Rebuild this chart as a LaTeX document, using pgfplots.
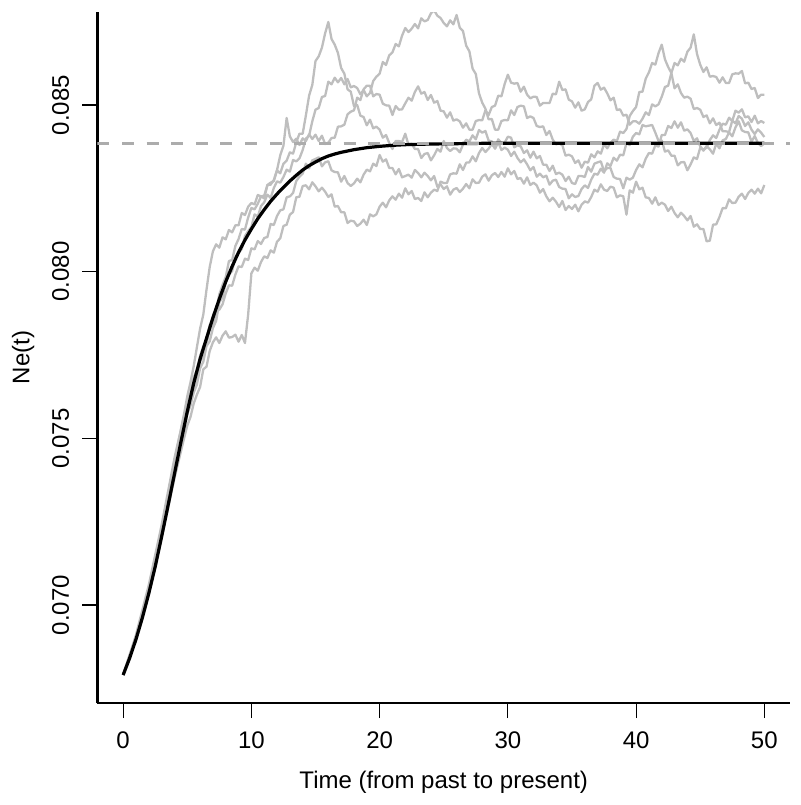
\documentclass[border=0pt]{standalone}
\usepackage{pgfplots}
\usepackage{pgfplotstable}
\pgfplotsset{compat=1.18}
\usepackage{fontspec}
\setmainfont{Liberation Sans}
\definecolor{pathgray}{RGB}{190,190,190}
\definecolor{dashgray}{RGB}{172,172,172}

\pgfplotstableread{
t a b c d e
0 0.06790 0.06790 0.06790 0.06790 0.06790
0.25 0.06819 0.06818 0.06820 0.06816 0.06818
0.5 0.06848 0.06845 0.06850 0.06843 0.06846
0.75 0.06876 0.06873 0.06880 0.06869 0.06874
1 0.06905 0.06900 0.06910 0.06895 0.06902
1.25 0.06941 0.06935 0.06948 0.06929 0.06938
1.5 0.06978 0.06970 0.06985 0.06963 0.06974
1.75 0.07014 0.07005 0.07023 0.06996 0.07009
2 0.07050 0.07040 0.07060 0.07030 0.07045
2.25 0.07095 0.07084 0.07105 0.07073 0.07090
2.5 0.07140 0.07128 0.07150 0.07115 0.07135
2.75 0.07185 0.07171 0.07195 0.07158 0.07180
3 0.07230 0.07215 0.07240 0.07200 0.07225
3.25 0.07280 0.07261 0.07290 0.07245 0.07271
3.5 0.07330 0.07308 0.07340 0.07290 0.07318
3.75 0.07380 0.07354 0.07390 0.07335 0.07364
4 0.07430 0.07400 0.07440 0.07380 0.07410
4.25 0.07478 0.07443 0.07483 0.07420 0.07455
4.5 0.07525 0.07485 0.07525 0.07460 0.07500
4.75 0.07573 0.07528 0.07568 0.07500 0.07545
5 0.07626 0.07573 0.07610 0.07538 0.07589
5.25 0.07668 0.07598 0.07637 0.07564 0.07627
5.5 0.07716 0.07637 0.07682 0.07604 0.07648
5.75 0.07773 0.07661 0.07705 0.07631 0.07690
6 0.07829 0.07710 0.07747 0.07654 0.07731
6.25 0.07871 0.07730 0.07776 0.07707 0.07747
6.5 0.07946 0.07777 0.07792 0.07715 0.07784
6.75 0.08014 0.07791 0.07840 0.07762 0.07826
7 0.08061 0.07831 0.07856 0.07788 0.07840
7.25 0.08082 0.07852 0.07881 0.07803 0.07882
7.5 0.08072 0.07908 0.07932 0.07786 0.07886
7.75 0.08103 0.07923 0.07960 0.07808 0.07902
8 0.08097 0.07967 0.07984 0.07821 0.07935
8.25 0.08125 0.07991 0.08032 0.07802 0.07959
8.5 0.08118 0.08002 0.08035 0.07804 0.07958
8.75 0.08139 0.08045 0.08077 0.07811 0.07991
9 0.08139 0.08056 0.08098 0.07790 0.08016
9.25 0.08176 0.08068 0.08128 0.07810 0.08014
9.5 0.08170 0.08107 0.08126 0.07786 0.08039
9.75 0.08195 0.08122 0.08163 0.07872 0.08035
10 0.08206 0.08134 0.08191 0.07995 0.08070
10.25 0.08202 0.08172 0.08187 0.08012 0.08067
10.5 0.08230 0.08165 0.08204 0.08003 0.08092
10.75 0.08226 0.08197 0.08226 0.08029 0.08083
11 0.08228 0.08208 0.08220 0.08046 0.08101
11.25 0.08260 0.08231 0.08260 0.08041 0.08104
11.5 0.08267 0.08221 0.08261 0.08064 0.08143
11.75 0.08272 0.08251 0.08275 0.08057 0.08140
12 0.08304 0.08271 0.08305 0.08090 0.08167
12.25 0.08295 0.08267 0.08349 0.08100 0.08184
12.5 0.08324 0.08284 0.08378 0.08137 0.08187
12.75 0.08333 0.08306 0.08461 0.08141 0.08223
13 0.08358 0.08300 0.08406 0.08171 0.08226
13.25 0.08354 0.08335 0.08389 0.08179 0.08236
13.5 0.08388 0.08331 0.08399 0.08223 0.08272
13.75 0.08414 0.08340 0.08380 0.08225 0.08285
14 0.08414 0.08365 0.08400 0.08257 0.08294
14.25 0.08469 0.08399 0.08392 0.08259 0.08324
14.5 0.08528 0.08408 0.08412 0.08247 0.08310
14.75 0.08560 0.08451 0.08398 0.08268 0.08334
15 0.08632 0.08486 0.08411 0.08256 0.08338
15.25 0.08646 0.08491 0.08392 0.08241 0.08343
15.5 0.08672 0.08524 0.08408 0.08252 0.08316
15.75 0.08715 0.08527 0.08383 0.08240 0.08328
16 0.08749 0.08570 0.08387 0.08224 0.08331
16.25 0.08698 0.08562 0.08401 0.08232 0.08304
16.5 0.08681 0.08582 0.08402 0.08195 0.08299
16.75 0.08656 0.08568 0.08435 0.08197 0.08298
17 0.08611 0.08581 0.08436 0.08178 0.08270
17.25 0.08594 0.08562 0.08441 0.08178 0.08287
17.5 0.08547 0.08578 0.08472 0.08146 0.08266
17.75 0.08540 0.08553 0.08480 0.08153 0.08257
18 0.08497 0.08557 0.08484 0.08151 0.08265
18.25 0.08500 0.08551 0.08522 0.08137 0.08279
18.5 0.08468 0.08532 0.08515 0.08144 0.08268
18.75 0.08464 0.08545 0.08547 0.08156 0.08291
19 0.08439 0.08526 0.08558 0.08140 0.08306
19.25 0.08456 0.08536 0.08558 0.08172 0.08301
19.5 0.08430 0.08572 0.08526 0.08166 0.08324
19.75 0.08435 0.08585 0.08533 0.08172 0.08317
20 0.08426 0.08594 0.08531 0.08195 0.08350
20.25 0.08402 0.08629 0.08504 0.08207 0.08330
20.5 0.08410 0.08620 0.08499 0.08193 0.08337
20.75 0.08386 0.08649 0.08498 0.08214 0.08311
21 0.08368 0.08658 0.08470 0.08226 0.08311
21.25 0.08392 0.08683 0.08497 0.08216 0.08292
21.5 0.08392 0.08676 0.08486 0.08234 0.08308
21.75 0.08389 0.08708 0.08487 0.08222 0.08283
22 0.08414 0.08731 0.08505 0.08250 0.08287
22.25 0.08380 0.08719 0.08522 0.08232 0.08291
22.5 0.08384 0.08729 0.08513 0.08242 0.08282
22.75 0.08368 0.08743 0.08539 0.08218 0.08305
23 0.08368 0.08730 0.08556 0.08221 0.08296
23.25 0.08341 0.08760 0.08534 0.08212 0.08283
23.5 0.08353 0.08751 0.08539 0.08238 0.08297
23.75 0.08356 0.08755 0.08515 0.08223 0.08287
24 0.08334 0.08775 0.08530 0.08237 0.08274
24.25 0.08349 0.08784 0.08507 0.08246 0.08287
24.5 0.08368 0.08768 0.08512 0.08242 0.08255
24.75 0.08360 0.08761 0.08483 0.08270 0.08262
25 0.08392 0.08746 0.08481 0.08266 0.08248
25.25 0.08371 0.08736 0.08462 0.08266 0.08256
25.5 0.08362 0.08754 0.08478 0.08292 0.08231
25.75 0.08370 0.08742 0.08453 0.08295 0.08246
26 0.08369 0.08770 0.08457 0.08294 0.08251
26.25 0.08358 0.08732 0.08451 0.08322 0.08239
26.5 0.08381 0.08722 0.08432 0.08305 0.08249
26.75 0.08396 0.08678 0.08445 0.08327 0.08263
27 0.08391 0.08661 0.08426 0.08328 0.08250
27.25 0.08409 0.08609 0.08426 0.08346 0.08277
27.5 0.08397 0.08593 0.08452 0.08331 0.08266
27.75 0.08425 0.08535 0.08455 0.08356 0.08267
28 0.08417 0.08507 0.08454 0.08371 0.08285
28.25 0.08422 0.08489 0.08484 0.08359 0.08292
28.5 0.08393 0.08457 0.08470 0.08369 0.08273
28.75 0.08391 0.08458 0.08494 0.08383 0.08289
29 0.08369 0.08426 0.08498 0.08370 0.08296
29.25 0.08388 0.08426 0.08528 0.08397 0.08284
29.5 0.08365 0.08452 0.08526 0.08386 0.08299
29.75 0.08372 0.08455 0.08563 0.08387 0.08285
30 0.08366 0.08454 0.08591 0.08405 0.08310
30.25 0.08347 0.08484 0.08567 0.08402 0.08292
30.5 0.08360 0.08470 0.08564 0.08373 0.08302
30.75 0.08341 0.08494 0.08566 0.08379 0.08278
31 0.08328 0.08498 0.08540 0.08376 0.08281
31.25 0.08337 0.08496 0.08555 0.08356 0.08264
31.5 0.08322 0.08461 0.08531 0.08364 0.08283
31.75 0.08304 0.08466 0.08520 0.08342 0.08260
32 0.08314 0.08461 0.08525 0.08360 0.08267
32.25 0.08285 0.08437 0.08524 0.08340 0.08259
32.5 0.08294 0.08434 0.08498 0.08347 0.08237
32.75 0.08283 0.08436 0.08506 0.08321 0.08248
33 0.08288 0.08410 0.08506 0.08321 0.08226
33.25 0.08261 0.08422 0.08506 0.08302 0.08211
33.5 0.08273 0.08396 0.08534 0.08318 0.08222
33.75 0.08276 0.08382 0.08532 0.08293 0.08210
34 0.08254 0.08385 0.08570 0.08297 0.08194
34.25 0.08249 0.08379 0.08545 0.08291 0.08212
34.5 0.08248 0.08348 0.08547 0.08272 0.08185
34.75 0.08220 0.08351 0.08516 0.08285 0.08197
35 0.08232 0.08346 0.08511 0.08266 0.08188
35.25 0.08224 0.08326 0.08492 0.08263 0.08201
35.5 0.08227 0.08334 0.08508 0.08287 0.08181
35.75 0.08248 0.08312 0.08483 0.08287 0.08201
36 0.08259 0.08330 0.08487 0.08284 0.08211
36.25 0.08251 0.08327 0.08509 0.08314 0.08207
36.5 0.08276 0.08352 0.08517 0.08300 0.08224
36.75 0.08294 0.08343 0.08558 0.08324 0.08246
37 0.08291 0.08361 0.08566 0.08328 0.08240
37.25 0.08309 0.08354 0.08546 0.08331 0.08262
37.5 0.08297 0.08383 0.08552 0.08301 0.08246
37.75 0.08325 0.08370 0.08535 0.08311 0.08242
38 0.08317 0.08387 0.08514 0.08311 0.08255
38.25 0.08342 0.08396 0.08522 0.08284 0.08252
38.5 0.08333 0.08392 0.08485 0.08279 0.08223
38.75 0.08351 0.08420 0.08487 0.08278 0.08229
39 0.08349 0.08416 0.08468 0.08250 0.08226
39.25 0.08386 0.08428 0.08471 0.08282 0.08171
39.5 0.08380 0.08467 0.08441 0.08276 0.08244
39.75 0.08405 0.08482 0.08451 0.08282 0.08237
40 0.08416 0.08494 0.08451 0.08305 0.08270
40.25 0.08412 0.08539 0.08444 0.08322 0.08247
40.5 0.08440 0.08540 0.08459 0.08313 0.08252
40.75 0.08436 0.08579 0.08478 0.08339 0.08223
41 0.08438 0.08598 0.08470 0.08356 0.08221
41.25 0.08440 0.08626 0.08502 0.08354 0.08204
41.5 0.08417 0.08621 0.08496 0.08379 0.08223
41.75 0.08392 0.08656 0.08502 0.08375 0.08200
42 0.08394 0.08681 0.08525 0.08410 0.08207
42.25 0.08360 0.08637 0.08554 0.08410 0.08201
42.5 0.08364 0.08614 0.08558 0.08437 0.08182
42.75 0.08348 0.08596 0.08596 0.08431 0.08195
43 0.08348 0.08550 0.08626 0.08451 0.08176
43.25 0.08319 0.08562 0.08619 0.08432 0.08163
43.5 0.08328 0.08536 0.08639 0.08448 0.08177
43.75 0.08329 0.08522 0.08630 0.08423 0.08167
44 0.08304 0.08525 0.08660 0.08427 0.08154
44.25 0.08322 0.08519 0.08672 0.08416 0.08167
44.5 0.08343 0.08488 0.08712 0.08392 0.08135
44.75 0.08338 0.08491 0.08653 0.08400 0.08142
45 0.08372 0.08486 0.08621 0.08376 0.08128
45.25 0.08366 0.08464 0.08599 0.08363 0.08128
45.5 0.08372 0.08469 0.08613 0.08377 0.08091
45.75 0.08395 0.08445 0.08585 0.08367 0.08093
46 0.08409 0.08460 0.08587 0.08354 0.08141
46.25 0.08401 0.08440 0.08584 0.08384 0.08142
46.5 0.08426 0.08447 0.08567 0.08370 0.08164
46.75 0.08444 0.08421 0.08583 0.08394 0.08191
47 0.08441 0.08421 0.08566 0.08398 0.08190
47.25 0.08462 0.08419 0.08566 0.08418 0.08217
47.5 0.08452 0.08453 0.08592 0.08406 0.08206
47.75 0.08483 0.08445 0.08595 0.08433 0.08207
48 0.08477 0.08467 0.08594 0.08451 0.08225
48.25 0.08487 0.08459 0.08602 0.08424 0.08234
48.5 0.08463 0.08437 0.08565 0.08419 0.08218
48.75 0.08466 0.08448 0.08567 0.08418 0.08236
49 0.08449 0.08426 0.08548 0.08390 0.08246
49.25 0.08468 0.08413 0.08551 0.08407 0.08234
49.5 0.08445 0.08427 0.08521 0.08386 0.08249
49.75 0.08452 0.08417 0.08531 0.08377 0.08235
50 0.08446 0.08404 0.08531 0.08385 0.08260
}\sims

\begin{document}
\begin{tikzpicture}
\useasboundingbox (-48.75pt,-51pt) rectangle (351.25pt,351.5pt);
\begin{axis}[
  scale only axis,
  width=346.25pt, height=345.5pt,
  xmin=-2, xmax=52,
  ymin=0.06706, ymax=0.08779,
  axis x line*=bottom, axis y line*=left,
  axis line style={-, line width=1.2pt, black},
  x axis line style={-}, y axis line style={-},
  tick align=outside,
  major tick length=7.5pt,
  tick style={black, line width=0.6pt},
  xtick={0,10,20,30,40,50},
  xticklabels={0,10,20,30,40,50},
  ytick={0.070,0.075,0.080,0.085},
  yticklabels={0.070,0.075,0.080,0.085},
  scaled y ticks=false, scaled x ticks=false,
  /pgf/number format/assume math mode=true,
  ticklabel style={font=\fontsize{12pt}{14pt}\selectfont, inner sep=0pt},
  xticklabel style={anchor=north},
  yticklabel style={rotate=90, anchor=south},
  xticklabel shift=6.5pt,
  yticklabel shift=6.5pt,
  label style={font=\fontsize{12pt}{14pt}\selectfont},
  xlabel={Time (from past to present)},
  ylabel={Ne(t)},
  xlabel style={at={([yshift=-42.5pt]axis description cs:0.5,0)}, anchor=base, inner sep=0pt},
  ylabel style={at={([xshift=-34pt]axis description cs:0,0.5)}, anchor=base, rotate=0, inner sep=0pt},
  clip=true,
]
\addplot[pathgray, line width=1.15pt, line join=round] table[x=t, y=a] {\sims};
\addplot[pathgray, line width=1.15pt, line join=round] table[x=t, y=b] {\sims};
\addplot[pathgray, line width=1.15pt, line join=round] table[x=t, y=c] {\sims};
\addplot[pathgray, line width=1.15pt, line join=round] table[x=t, y=d] {\sims};
\addplot[pathgray, line width=1.15pt, line join=round] table[x=t, y=e] {\sims};
\addplot[black, line width=1.6pt, line join=round] coordinates {
(0,0.06790)(0.5,0.06840)(1,0.06897)(1.5,0.06962)(2,0.07035)(2.5,0.07115)
(3,0.07205)(3.5,0.07298)(4,0.07393)(4.5,0.07488)(5,0.07580)(5.5,0.07665)
(6,0.07738)(6.5,0.07800)(7,0.07862)(7.5,0.07918)(8,0.07970)(8.5,0.08016)
(9,0.08058)(9.5,0.08095)(10,0.08128)(10.5,0.08159)(11,0.08186)(11.5,0.08211)
(12,0.08233)(12.5,0.08253)(13,0.08272)(13.5,0.08289)(14,0.08305)(14.5,0.08318)
(15,0.08329)(15.5,0.08339)(16,0.08347)(16.5,0.08353)(17,0.08358)(18,0.08366)
(19,0.08372)(20,0.08376)(21,0.08379)(22,0.08381)(23,0.08382)(24,0.08383)
(26,0.08384)(28,0.08385)(50,0.08385)};
\addplot[dashgray, line width=1.3pt, dash pattern=on 6pt off 6.3pt] coordinates {(-2,0.08385) (52,0.08385)};
\end{axis}
\end{tikzpicture}
\end{document}
